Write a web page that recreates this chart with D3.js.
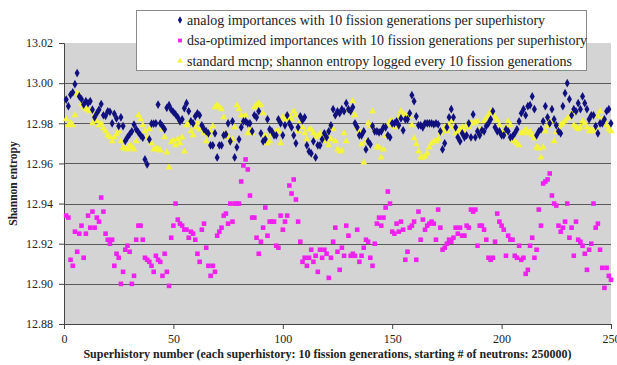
<!DOCTYPE html>
<html>
<head>
<meta charset="utf-8">
<script src="https://cdn.jsdelivr.net/npm/d3@7"></script>
<style>
  body { margin: 0; background: #fff; }
  svg { display: block; }
  svg text { font-family: "Times New Roman", "Liberation Serif", serif; }
</style>
</head>
<body>
<svg id="chart" width="617" height="365"></svg>
<script>
// values, superhistory 1..250
const analog = [
  12.9918, 12.9885, 12.9942, 12.9954, 12.9995, 13.005, 12.9934, 12.992, 12.9893, 12.991,
  12.990, 12.991, 12.9868, 12.983, 12.985, 12.9868, 12.9896, 12.984, 12.9837, 12.986,
  12.9857, 12.980, 12.9847, 12.9824, 12.9786, 12.983, 12.9786, 12.9712, 12.973, 12.9745,
  12.976, 12.9794, 12.977, 12.9755, 12.974, 12.9728, 12.962, 12.9595, 12.972, 12.9798,
  12.9798, 12.980, 12.9893, 12.980, 12.9786, 12.977, 12.9877, 12.989, 12.9868, 12.9856,
  12.9844, 12.983, 12.981, 12.982, 12.9875, 12.990, 12.986, 12.981, 12.980, 12.9835,
  12.985, 12.984, 12.979, 12.977, 12.976, 12.975, 12.969, 12.969, 12.975, 12.963,
  12.969, 12.969, 12.974, 12.9745, 12.980, 12.971, 12.981, 12.963, 12.968, 12.972,
  12.978, 12.981, 12.981, 12.980, 12.980, 12.976, 12.984, 12.983, 12.986, 12.975,
  12.971, 12.972, 12.982, 12.977, 12.976, 12.974, 12.974, 12.982, 12.980, 12.974,
  12.979, 12.984, 12.980, 12.978, 12.974, 12.970, 12.978, 12.9835, 12.9815, 12.983,
  12.969, 12.966, 12.965, 12.971, 12.963, 12.969, 12.969, 12.972, 12.975, 12.973,
  12.976, 12.979, 12.987, 12.984, 12.986, 12.985, 12.987, 12.986, 12.990, 12.987,
  12.986, 12.988, 12.980, 12.978, 12.974, 12.974, 12.976, 12.967, 12.971, 12.9695,
  12.9786, 12.976, 12.976, 12.9755, 12.976, 12.978, 12.978, 12.974, 12.973, 12.980,
  12.980, 12.981, 12.979, 12.9824, 12.9765, 12.982, 12.982, 12.985, 12.994, 12.991,
  12.9835, 12.979, 12.979, 12.978, 12.980, 12.980, 12.980, 12.980, 12.9795, 12.980,
  12.9795, 12.976, 12.967, 12.970, 12.978, 12.983, 12.987, 12.983, 12.978, 12.973,
  12.971, 12.975, 12.973, 12.974, 12.980, 12.973, 12.9844, 12.973, 12.976, 12.974,
  12.9765, 12.976, 12.9786, 12.980, 12.982, 12.986, 12.978, 12.976, 12.976, 12.974,
  12.974, 12.977, 12.976, 12.973, 12.9735, 12.975, 12.977, 12.981, 12.985, 12.987,
  12.984, 12.9885, 12.989, 12.9934, 12.987, 12.974, 12.976, 12.977, 12.981, 12.9885,
  12.983, 12.980, 12.987, 12.982, 12.979, 12.976, 12.975, 12.9885, 12.995, 13.000,
  12.992, 12.984, 12.987, 12.986, 12.990, 12.987, 12.9934, 12.990, 12.987, 12.982,
  12.984, 12.984, 12.9786, 12.975, 12.980, 12.980, 12.982, 12.986, 12.987, 12.980
];

const dsa = [
  12.934, 12.933, 12.912, 12.909, 12.926, 12.916, 12.925, 12.929, 12.913, 12.925,
  12.934, 12.928, 12.936, 12.928, 12.933, 12.931, 12.943, 12.936, 12.925, 12.922,
  12.920, 12.922, 12.909, 12.915, 12.913, 12.900, 12.906, 12.917, 12.919, 12.916,
  12.900, 12.904, 12.922, 12.929, 12.929, 12.922, 12.913, 12.912, 12.911, 12.909,
  12.906, 12.914, 12.912, 12.911, 12.904, 12.915, 12.906, 12.899, 12.923, 12.929,
  12.940, 12.932, 12.930, 12.929, 12.927, 12.927, 12.923, 12.926, 12.925, 12.922,
  12.915, 12.911, 12.927, 12.930, 12.918, 12.909, 12.904, 12.909, 12.906, 12.924,
  12.926, 12.928, 12.934, 12.935, 12.930, 12.940, 12.931, 12.940, 12.940, 12.940,
  12.951, 12.959, 12.962, 12.957, 12.944, 12.933, 12.933, 12.923, 12.915, 12.921,
  12.928, 12.938, 12.924, 12.931, 12.931, 12.931, 12.919, 12.918, 12.934, 12.927,
  12.931, 12.934, 12.949, 12.945, 12.952, 12.942, 12.931, 12.921, 12.911, 12.913,
  12.909, 12.913, 12.917, 12.911, 12.914, 12.906, 12.917, 12.913, 12.917, 12.915,
  12.903, 12.913, 12.921, 12.928, 12.916, 12.907, 12.918, 12.914, 12.929, 12.924,
  12.914, 12.915, 12.914, 12.927, 12.911, 12.914, 12.918, 12.922, 12.921, 12.913,
  12.909, 12.920, 12.930, 12.933, 12.929, 12.933, 12.938, 12.946, 12.940, 12.926,
  12.925, 12.930, 12.926, 12.931, 12.927, 12.912, 12.916, 12.928, 12.929, 12.931,
  12.912, 12.936, 12.922, 12.932, 12.927, 12.929, 12.930, 12.931, 12.930, 12.922,
  12.937, 12.928, 12.917, 12.918, 12.920, 12.922, 12.921, 12.923, 12.928, 12.925,
  12.928, 12.924, 12.924, 12.929, 12.928, 12.937, 12.936, 12.937, 12.919, 12.929,
  12.929, 12.927, 12.922, 12.913, 12.912, 12.913, 12.921, 12.935, 12.931, 12.929,
  12.927, 12.914, 12.924, 12.922, 12.922, 12.914, 12.913, 12.919, 12.912, 12.913,
  12.905, 12.907, 12.919, 12.923, 12.913, 12.917, 12.937, 12.929, 12.950, 12.951,
  12.952, 12.955, 12.944, 12.940, 12.939, 12.929, 12.926, 12.928, 12.931, 12.940,
  12.923, 12.928, 12.914, 12.931, 12.922, 12.921, 12.919, 12.915, 12.907, 12.917,
  12.920, 12.940, 12.928, 12.930, 12.917, 12.908, 12.898, 12.908, 12.904, 12.902
];

const standard = [
  12.982, 12.979, 12.980, 12.979, 12.984, 12.995, 12.994, 12.9895, 12.988, 12.987,
  12.9865, 12.986, 12.980, 12.984, 12.981, 12.979, 12.980, 12.9775, 12.976, 12.974,
  12.973, 12.971, 12.973, 12.9745, 12.976, 12.971, 12.968, 12.9675, 12.967, 12.969,
  12.968, 12.967, 12.971, 12.984, 12.982, 12.979, 12.976, 12.973, 12.977, 12.970,
  12.967, 12.9675, 12.967, 12.9665, 12.977, 12.973, 12.9655, 12.958, 12.9705, 12.9715,
  12.969, 12.972, 12.970, 12.973, 12.966, 12.979, 12.980, 12.976, 12.974, 12.978,
  12.980, 12.977, 12.977, 12.975, 12.971, 12.974, 12.976, 12.9785, 12.988, 12.989,
  12.988, 12.987, 12.983, 12.975, 12.973, 12.971, 12.972, 12.978, 12.989, 12.987,
  12.984, 12.981, 12.984, 12.975, 12.977, 12.975, 12.988, 12.989, 12.990, 12.989,
  12.985, 12.974, 12.970, 12.971, 12.974, 12.975, 12.976, 12.976, 12.970, 12.983,
  12.982, 12.982, 12.984, 12.982, 12.986, 12.984, 12.976, 12.981, 12.978, 12.975,
  12.972, 12.977, 12.977, 12.975, 12.973, 12.974, 12.975, 12.9735, 12.971, 12.974,
  12.969, 12.972, 12.977, 12.971, 12.967, 12.966, 12.9665, 12.975, 12.971, 12.987,
  12.986, 12.991, 12.984, 12.978, 12.976, 12.9695, 12.9605, 12.971, 12.980, 12.9786,
  12.986, 12.977, 12.968, 12.968, 12.963, 12.967, 12.9737, 12.979, 12.981, 12.981,
  12.978, 12.979, 12.983, 12.986, 12.985, 12.984, 12.984, 12.9835, 12.979, 12.9725,
  12.9695, 12.966, 12.963, 12.963, 12.9635, 12.965, 12.968, 12.970, 12.971, 12.971,
  12.972, 12.975, 12.9765, 12.978, 12.976, 12.979, 12.981, 12.978, 12.975, 12.976,
  12.977, 12.978, 12.976, 12.979, 12.978, 12.980, 12.980, 12.9805, 12.981, 12.977,
  12.9755, 12.981, 12.9825, 12.984, 12.986, 12.985, 12.983, 12.9815, 12.979, 12.976,
  12.975, 12.978, 12.981, 12.979, 12.9715, 12.971, 12.970, 12.969, 12.975, 12.9755,
  12.977, 12.975, 12.976, 12.974, 12.9725, 12.968, 12.9675, 12.963, 12.968, 12.976,
  12.9786, 12.981, 12.981, 12.971, 12.9755, 12.9775, 12.979, 12.980, 12.981, 12.9824,
  12.983, 12.985, 12.979, 12.978, 12.977, 12.978, 12.981, 12.980, 12.978, 12.976,
  12.977, 12.976, 12.978, 12.9835, 12.986, 12.982, 12.981, 12.979, 12.977, 12.976
];

const yTicks = [12.88, 12.90, 12.92, 12.94, 12.96, 12.98, 13.00, 13.02];
const xTicks = [0, 50, 100, 150, 200, 250];
const seriesNames = [
  'analog importances with 10 fission generations per superhistory',
  'dsa-optimized importances with 10 fission generations per superhistory',
  'standard mcnp; shannon entropy logged every 10 fission generations'
];
const xTitle = 'Superhistory number (each superhistory: 10 fission generations, starting # of neutrons: 250000)';
const yTitle = 'Shannon entropy';

const serif = '"Times New Roman", "Liberation Serif", serif';
const margin = { top: 43, right: 6, bottom: 41, left: 64 };
const width = 617, height = 365;
const svg = d3.select('#chart');

const x = d3.scaleLinear().domain([0, 250]).range([margin.left, width - margin.right]);
const y = d3.scaleLinear().domain([12.88, 13.02]).range([height - margin.bottom, margin.top]);

// plot background
svg.append('rect')
  .attr('x', x(0)).attr('y', y(13.02))
  .attr('width', x(250) - x(0)).attr('height', y(12.88) - y(13.02))
  .attr('fill', '#d4d4d4');

// gridlines
svg.append('g')
  .selectAll('line')
  .data(yTicks.filter(d => d > 12.88 && d < 13.02))
  .join('line')
  .attr('x1', x(0)).attr('x2', x(250))
  .attr('y1', d => Math.round(y(d)) + 0.5).attr('y2', d => Math.round(y(d)) + 0.5)
  .attr('stroke', '#5a5a5a')
  .attr('stroke-width', 1);

const yAxis = g => g
  .attr('transform', `translate(${x(0)},0)`)
  .call(d3.axisLeft(y).tickValues(yTicks).tickFormat(d3.format('.2f')).tickSize(5).tickPadding(6))
  .attr('font-family', serif)
  .call(g => g.selectAll('text').attr('font-size', 12).attr('fill', '#222'))
  .call(g => g.selectAll('line, path').attr('stroke', '#444'));

const xAxis = g => g
  .attr('transform', `translate(0,${y(12.88)})`)
  .call(d3.axisBottom(x).tickValues(xTicks).tickSize(5).tickPadding(5))
  .attr('font-family', serif)
  .call(g => g.selectAll('text').attr('font-size', 12).attr('fill', '#222'))
  .call(g => g.selectAll('line, path').attr('stroke', '#444'));

svg.append('g').call(yAxis);
svg.append('g').call(xAxis);

const series = [
  { data: analog, color: '#10107e', shape: d3.symbolDiamond, size: 22 },
  { data: dsa, color: '#f020f0', shape: d3.symbolSquare, size: 21 },
  { data: standard, color: '#f4f43a', shape: d3.symbolTriangle, size: 21 }
];

// draw back to front so navy ends on top like the original
[series[1], series[2], series[0]].forEach(s => {
  svg.append('g')
    .selectAll('path')
    .data(s.data)
    .join('path')
    .attr('transform', (d, i) => `translate(${x(i + 1)},${y(d)})`)
    .attr('d', d3.symbol().type(s.shape).size(s.size))
    .attr('fill', s.color);
});

// legend
const legend = svg.append('g');
legend.append('rect')
  .attr('x', 136.5).attr('y', 10.5)
  .attr('width', 450).attr('height', 60)
  .attr('fill', '#fff')
  .attr('stroke', '#8a8a8a');

series.forEach((s, i) => {
  const ly = 20 + i * 20.5;
  legend.append('path')
    .attr('transform', `translate(180,${ly})`)
    .attr('d', d3.symbol().type(s.shape).size(s.size * 0.7))
    .attr('fill', s.color);
  legend.append('text')
    .attr('x', 187).attr('y', ly)
    .attr('dy', '0.35em')
    .attr('font-family', serif)
    .attr('font-size', 14)
    .attr('fill', '#222')
    .text(seriesNames[i]);
});

svg.append('text')
  .attr('x', (x(0) + x(250)) / 2 - 10)
  .attr('y', 358)
  .attr('text-anchor', 'middle')
  .attr('font-family', serif)
  .attr('font-size', 12)
  .attr('font-weight', 'bold')
  .attr('fill', '#222')
  .text(xTitle);

svg.append('text')
  .attr('transform', `translate(17,${(y(12.88) + y(13.02)) / 2}) rotate(-90)`)
  .attr('text-anchor', 'middle')
  .attr('font-family', serif)
  .attr('font-size', 11.5)
  .attr('font-weight', 'bold')
  .attr('fill', '#222')
  .text(yTitle);
</script>
</body>
</html>
